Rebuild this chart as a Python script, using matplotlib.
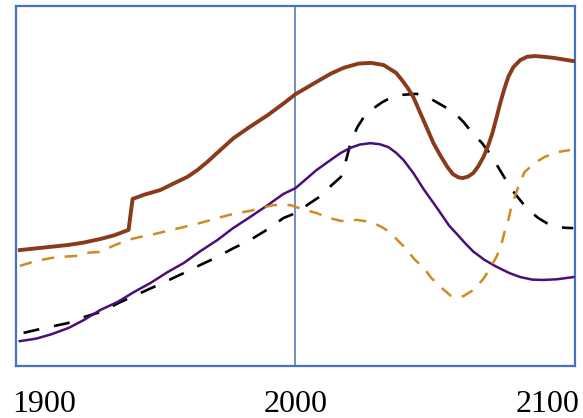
import numpy as np
import matplotlib.pyplot as plt

# values (arbitrary units, 0 = bottom of frame, 100 = top)
brown_x = [1890.5, 1900, 1909.5, 1916, 1922.6, 1928, 1933.7, 1935.3, 1940, 1946.4, 1951,
           1957, 1961, 1965, 1970, 1975.4, 1982, 1989, 1995.2, 2000, 2008.3, 2014, 2019,
           2025, 2030, 2035, 2040, 2042.3, 2044.5, 2046.8, 2050.8, 2054.8, 2057.5,
           2060.3, 2062.5, 2064.7, 2066.3, 2068.5, 2070.6, 2072.6, 2074.6, 2076.5,
           2078.2, 2079.8, 2081.3, 2082.9, 2084.5, 2086.5, 2089.3, 2092, 2095.2,
           2098.5, 2102.4, 2106, 2110.3]
brown_y = [32.2, 32.9, 33.6, 34.3, 35.3, 36.3, 37.8, 46.4, 47.6, 48.9, 50.5,
           52.5, 54.4, 56.7, 59.9, 63.3, 66.5, 69.7, 72.9, 75.5, 78.9, 81.2, 82.8,
           84.0, 84.2, 83.6, 81.4, 79.4, 77.3, 74.7, 68.3, 61.9, 58.5,
           55.3, 53.3, 52.4, 52.2, 52.6, 53.6, 55.5, 58.0, 61.2,
           64.7, 68.9, 73.0, 76.9, 80.3, 83.0, 85.0, 85.9, 86.1,
           85.9, 85.6, 85.2, 84.7]

purple_x = [1890.5, 1897, 1903, 1910, 1916, 1922.6, 1929.4, 1936, 1942.5, 1949, 1955.6,
            1962, 1969, 1975, 1982, 1989, 1995.2, 2000, 2004, 2008.3, 2013.9, 2018,
            2021.8, 2025.5, 2029.8, 2033.5, 2036.9, 2040, 2042.9, 2046.8, 2051, 2056.3,
            2061, 2064.3, 2067.5, 2070.6, 2075, 2080, 2085, 2089.3, 2094, 2098.4,
            2104, 2110.3]
purple_y = [6.9, 7.6, 8.8, 10.6, 12.8, 15.6, 17.8, 20.6, 23.1, 26.0, 28.6,
            31.8, 35.0, 38.2, 41.4, 44.7, 47.8, 49.4, 51.8, 54.4, 57.2, 59.2,
            60.6, 61.5, 61.9, 61.6, 60.8, 59.2, 57.2, 53.6, 49.0, 43.8,
            39.0, 36.5, 34.0, 31.8, 29.5, 27.5, 25.8, 24.7, 24.0, 23.9,
            24.1, 24.7]

black_x = [1892, 1900, 1909.5, 1916, 1922.6, 1930, 1938.5, 1947, 1955.6, 1962, 1969,
           1975, 1982, 1989, 1995.2, 2001.2, 2005, 2010, 2014, 2018, 2020.2, 2022,
           2024.6, 2027, 2029.4, 2032, 2034.5, 2038, 2042, 2048, 2052, 2056, 2060.7,
           2064, 2066.7, 2070.6, 2074, 2077.4, 2080, 2083.7, 2087, 2089.3, 2092,
           2096.4, 2100, 2103.6, 2107, 2110.3]
black_y = [9.2, 10.5, 11.9, 13.6, 15.0, 17.6, 20.3, 23.0, 25.8, 28.0, 30.3,
           32.6, 35.0, 38.0, 41.1, 42.8, 44.9, 47.2, 50.0, 52.5, 57.5, 62.2,
           66.4, 69.0, 70.6, 72.1, 73.3, 74.6, 75.3, 75.6, 74.9, 73.3, 71.4,
           69.7, 67.8, 64.4, 62.0, 58.8, 55.8, 51.5, 48.0, 46.0, 43.7,
           41.1, 39.6, 38.7, 38.4, 38.3]

orange_x = [1890.5, 1897, 1903, 1909, 1913.5, 1918, 1922.6, 1928, 1933.3, 1938, 1942.5,
            1949, 1955.6, 1962, 1969, 1975, 1982, 1987, 1991.3, 1995, 1998, 2000,
            2004, 2008.3, 2013, 2018, 2021, 2024.2, 2028, 2032, 2035, 2038, 2041,
            2044, 2047, 2051, 2054, 2058, 2061.5, 2064, 2066.7, 2070.6, 2074.6,
            2077.4, 2080, 2081.7, 2083, 2084.5, 2085.7, 2087.3, 2089, 2091,
            2095, 2099, 2104, 2109]
orange_y = [27.8, 29.2, 30.0, 30.4, 30.6, 31.5, 31.7, 33.5, 35.0, 35.8, 36.4,
            37.5, 38.6, 39.7, 41.1, 42.2, 43.1, 44.0, 44.7, 44.7, 44.7, 44.2,
            43.3, 42.5, 41.2, 40.3, 40.3, 40.6, 40.2, 39.4, 38.3, 36.8, 34.6,
            32.5, 29.8, 27.2, 24.4, 21.7, 19.6, 19.1, 19.4, 21.1, 24.2,
            27.2, 30.6, 33.6, 37.2, 40.5, 44.2, 47.5, 50.8, 53.9,
            56.4, 58.1, 59.4, 60.0]

ticks = [1900, 2000, 2100]

fig = plt.figure(figsize=(5.83, 4.18), dpi=100)
ax = fig.add_axes([16/583, 52/418, 559/583, 360/418])

ax.plot(brown_x, brown_y, color='#8a3b1b', lw=2.8, solid_joinstyle='round', zorder=4)
ax.plot(black_x, black_y, color='black', lw=1.9, dashes=(6.1, 5.7), zorder=3)
ax.plot(purple_x, purple_y, color='#4b0f78', lw=1.8, solid_joinstyle='round', zorder=3)
ax.plot(orange_x, orange_y, color='#d08a22', lw=1.8, dashes=(5, 4.2), zorder=3)

ax.axvline(2000, color='#4a6fb8', lw=1.1, zorder=2)

ax.set_xlim(1889, 2111)
ax.set_ylim(0, 100)
ax.set_yticks([])
ax.set_xticks(ticks)
ax.set_xticklabels([str(t) for t in ticks], fontfamily='Liberation Serif', fontsize=23)
ax.tick_params(axis='x', length=0, pad=17)
for s in ax.spines.values():
    s.set_color('#4472c4')
    s.set_linewidth(1.6)

fig.savefig('out.png', dpi=100)
